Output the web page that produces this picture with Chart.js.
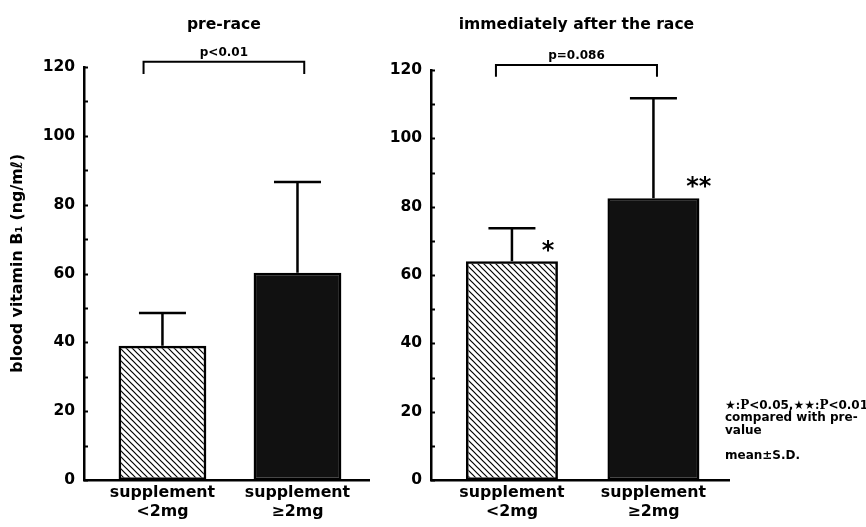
<!DOCTYPE html>
<html>
<head>
<meta charset="utf-8">
<script src="https://cdn.jsdelivr.net/npm/chart.js@4.4.0/dist/chart.umd.min.js"></script>
<style>
html, body { margin: 0; padding: 0; background: #fff; }
#wrap { position: relative; width: 866px; height: 527px; }
canvas { position: absolute; top: 0; }
#c1 { left: 0; }
#c2 { left: 370px; }
</style>
</head>
<body>
<div id="wrap">
  <canvas id="c1" width="370" height="527"></canvas>
  <canvas id="c2" width="496" height="527"></canvas>
</div>
<script>
// values
var groups = [['supplement', '<2mg'], ['supplement', '\u22652mg']];
var preMean = [39, 60.2];
var preSD = [9.5, 26.4];
var postMean = [64, 82.5];
var postSD = [9.7, 29.2];
var yTicks = [0, 20, 40, 60, 80, 100, 120];
var panelTitles = ['pre-race', 'immediately after the race'];
var pValues = ['p<0.01', 'p=0.086'];
var postStars = ['*', '**'];
var yTitle = 'blood vitamin B\u2081 (ng/m\u2113)';
var noteLines = ['compared with pre-', 'value', 'mean\u00b1S.D.'];

var SANS = "'DejaVu Sans', sans-serif";
var SERIF = "'DejaVu Serif', 'Liberation Serif', serif";

function hatch(ctx) {
  var c = document.createElement('canvas');
  c.width = c.height = 6;
  var g = c.getContext('2d');
  g.strokeStyle = '#000';
  g.lineWidth = 1.2;
  g.beginPath();
  g.moveTo(-1, -1); g.lineTo(7, 7);
  g.moveTo(-1, 5); g.lineTo(1, 7);
  g.moveTo(5, -1); g.lineTo(7, 1);
  g.stroke();
  return ctx.createPattern(c, 'repeat');
}

// draws text made of pieces in different fonts
function runs(ctx, parts, x, y) {
  parts.forEach(function (p) {
    ctx.font = p[1];
    ctx.fillText(p[0], x, y);
    x += ctx.measureText(p[0]).width;
  });
}

var marks = {
  id: 'marks',
  afterDatasetsDraw: function (chart) {
    var o = chart.options.plugins.marks;
    var ctx = chart.ctx, x = chart.scales.x, y = chart.scales.y, a = chart.chartArea;
    ctx.save();
    ctx.strokeStyle = '#000';
    ctx.fillStyle = '#000';

    // small inward ticks every 10
    ctx.lineWidth = 2;
    for (var v = 0; v <= 120; v += 10) {
      var ty = Math.round(y.getPixelForValue(v)) + 0.5;
      ctx.beginPath();
      ctx.moveTo(a.left, ty);
      ctx.lineTo(a.left + 4, ty);
      ctx.stroke();
    }

    // S.D. bars, upward only
    ctx.lineWidth = 2.5;
    o.mean.forEach(function (m, i) {
      var px = x.getPixelForValue(i + 1);
      var p0 = y.getPixelForValue(m), p1 = y.getPixelForValue(m + o.sd[i]);
      ctx.beginPath();
      ctx.moveTo(px, p0); ctx.lineTo(px, p1);
      ctx.moveTo(px - 23.5, p1); ctx.lineTo(px + 23.5, p1);
      ctx.stroke();
    });

    // significance bracket
    var bx1 = x.getPixelForValue(o.bracket[0]), bx2 = x.getPixelForValue(o.bracket[1]);
    var by = y.getPixelForValue(121.5), bl = y.getPixelForValue(118);
    ctx.lineWidth = 2;
    ctx.beginPath();
    ctx.moveTo(bx1, bl); ctx.lineTo(bx1, by); ctx.lineTo(bx2, by); ctx.lineTo(bx2, bl);
    ctx.stroke();

    var mid = (bx1 + bx2) / 2;
    ctx.textAlign = 'center';
    ctx.textBaseline = 'alphabetic';
    ctx.font = 'bold 12px ' + SANS;
    ctx.fillText(o.p, mid, y.getPixelForValue(123.2));
    ctx.font = 'bold 15.6px ' + SANS;
    ctx.fillText(o.title, mid, 29);

    // stars beside the bars
    if (o.stars) {
      ctx.font = 'bold 24px ' + SANS;
      o.stars.forEach(function (s) {
        ctx.fillText(s[2], x.getPixelForValue(s[0]), y.getPixelForValue(s[1]) + 0.58 * 24);
      });
    }

    // y axis title
    if (o.yTitle) {
      ctx.save();
      ctx.translate(18, y.getPixelForValue(63));
      ctx.rotate(-Math.PI / 2);
      ctx.textBaseline = 'middle';
      ctx.font = 'bold 15.8px ' + SANS;
      ctx.fillText(o.yTitle, 0, 0);
      ctx.restore();
    }

    // footnote
    if (o.note) {
      ctx.textAlign = 'left';
      var nx = a.right - 4;
      var b = 'bold 12px ' + SANS, sf = 'bold 12px ' + SERIF;
      runs(ctx, [['\u2605', b], [':P', sf], ['<0.05,', b], ['\u2605\u2605', b], [':P', sf], ['<0.01', b]], nx, a.bottom - 71);
      ctx.font = b;
      ctx.fillText(o.note[0], nx, a.bottom - 59);
      ctx.fillText(o.note[1], nx, a.bottom - 46);
      ctx.fillText(o.note[2], nx, a.bottom - 21);
    }
    ctx.restore();
  }
};

function panel(id, mean, sd, cfg) {
  var canvas = document.getElementById(id);
  var ctx = canvas.getContext('2d');
  var points = mean.map(function (m, i) { return { x: i + 1, y: m }; });
  return new Chart(ctx, {
    type: 'bar',
    data: {
      datasets: [{
        data: points,
        backgroundColor: [hatch(ctx), '#111'],
        borderColor: '#000',
        borderWidth: 2.5,
        borderSkipped: false,
        categoryPercentage: 1,
        barPercentage: 0.65
      }]
    },
    options: {
      responsive: false,
      animation: false,
      devicePixelRatio: 1,
      layout: { padding: { top: cfg.padTop, right: cfg.padRight, left: 0, bottom: 0 } },
      plugins: {
        legend: { display: false },
        tooltip: { enabled: false },
        marks: {
          mean: mean, sd: sd, bracket: cfg.bracket, p: cfg.p, title: cfg.title,
          stars: cfg.stars, yTitle: cfg.yTitle, note: cfg.note
        }
      },
      scales: {
        x: {
          type: 'linear',
          offset: false,
          min: cfg.xMin,
          max: cfg.xMax,
          afterBuildTicks: function (s) { s.ticks = [{ value: 1 }, { value: 2 }]; },
          afterFit: function (s) { s.height = 47; },
          grid: { display: false, drawTicks: false, offset: false },
          border: { display: true, color: '#000', width: 2.5 },
          ticks: {
            autoSkip: false,
            maxRotation: 0,
            padding: 4,
            color: '#000',
            font: { family: SANS, size: 15.8, weight: 'bold', lineHeight: 1.18 },
            callback: function (v) { return groups[v - 1]; }
          }
        },
        y: {
          min: 0,
          max: 120,
          afterFit: function (s) { s.width = cfg.yWidth; },
          grid: { display: false, drawTicks: false },
          border: { display: true, color: '#000', width: 2.5 },
          ticks: {
            stepSize: 20,
            padding: 9,
            color: '#000',
            font: { family: SANS, size: 15.5, weight: 'bold' },
            callback: function (v) { return yTicks.indexOf(v) >= 0 ? v : ''; }
          }
        }
      }
    },
    plugins: [marks]
  });
}

panel('c1', preMean, preSD, {
  xMin: 0.419, xMax: 2.537, yWidth: 84, padTop: 67, padRight: 0,
  bracket: [0.86, 2.05], p: pValues[0], title: panelTitles[0], yTitle: yTitle
});

panel('c2', postMean, postSD, {
  xMin: 0.428, xMax: 2.534, yWidth: 61, padTop: 70, padRight: 137,
  bracket: [0.887, 2.025], p: pValues[1], title: panelTitles[1],
  stars: [[1.255, 69, postStars[0]], [2.32, 87.8, postStars[1]]],
  note: noteLines
});
</script>
</body>
</html>
